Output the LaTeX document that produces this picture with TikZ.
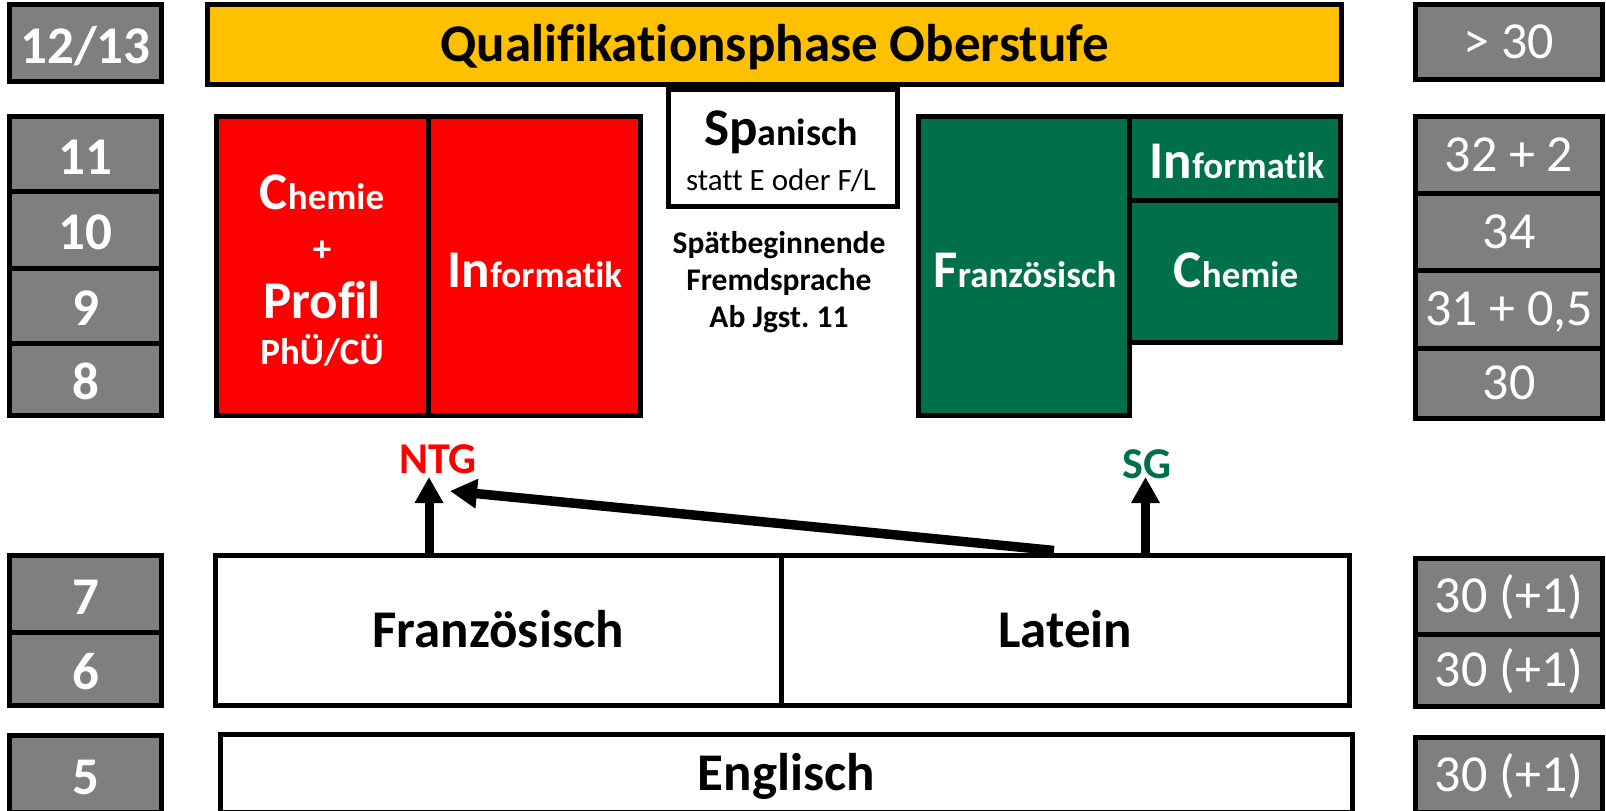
\documentclass[tikz,border=0pt]{standalone}
\usepackage{fontspec}
\setmainfont[Ligatures=NoCommon]{Carlito}
\usetikzlibrary{arrows.meta,calc}
\frenchspacing
\definecolor{cgray}{HTML}{7F7F7F}
\definecolor{cyel}{HTML}{FFC000}
\definecolor{cred}{HTML}{FF0000}
\definecolor{cgreen}{HTML}{00704A}
\newcommand\Hx[1]{{\fontsize{53}{60}\selectfont #1}}
\newcommand\boxat[7]{%
  \pgfmathsetmacro\bxcx{(#2+#4)/2}%
  \pgfmathsetmacro\bxcy{(#3+#5)/2}%
  \pgfmathsetmacro\bxw{#4-#2}%
  \pgfmathsetmacro\bxh{#5-#3}%
  \node[#6, minimum width=\bxw pt, minimum height=\bxh pt] (#1) at (\bxcx,\bxcy) {#7};}
\tikzset{
  bx/.style={draw=black, line width=5pt, inner sep=0pt, outer sep=0pt},
  grayL/.style={bx, fill=cgray, text=white, font=\bfseries\fontsize{53}{60}\selectfont, text height=40.5pt, text depth=0pt},
  grayR/.style={bx, fill=cgray, text=white, font=\fontsize{52}{60}\selectfont, text height=33pt, text depth=0pt},
  whitebox/.style={bx, fill=white, text=black, font=\bfseries\fontsize{53}{60}\selectfont, text height=34pt, text depth=0pt},
  yelbox/.style={bx, fill=cyel, text=black, font=\bfseries\fontsize{53}{60}\selectfont, text height=34pt, text depth=0pt},
  redbox/.style={bx, fill=cred},
  grnbox/.style={bx, fill=cgreen},
  wtxt/.style={inner sep=0pt, anchor=base, text=white, font=\bfseries\fontsize{37}{44}\selectfont},
  btxt/.style={inner sep=0pt, anchor=base, text=black, font=\bfseries\fontsize{31.5}{38}\selectfont},
  lbl/.style={inner sep=0pt, anchor=base, font=\bfseries\fontsize{44}{50}\selectfont},
  uparr/.style={draw=black, line width=9pt, -{Triangle[length=26pt,width=27pt]}},
  diagarr/.style={draw=black, line width=9.5pt, -{Triangle[length=27pt,width=28pt]}}
}
\begin{document}
\begin{tikzpicture}[x=1pt,y=-1pt]
\useasboundingbox (0,0) rectangle (1606,811);
% left column
\boxat{l1213}{9.5}{4.5}{161.5}{81.5}{grayL}{12/13}
\boxat{l11}{9.5}{116.5}{161.5}{191}{grayL}{11}
\boxat{l10}{9.5}{191}{161.5}{268}{grayL}{10}
\boxat{l9}{9.5}{268}{161.5}{343}{grayL}{9}
\boxat{l8}{9.5}{343}{161.5}{415.5}{grayL}{8}
\boxat{l7}{9.5}{555.5}{161.5}{632}{grayL}{7}
\boxat{l6}{9.5}{632}{161.5}{705.5}{grayL}{6}
\boxat{l5}{9.5}{735.5}{161.5}{812}{grayL}{5}
% right column
\boxat{r1213}{1415.5}{4.5}{1602.5}{79.5}{grayR}{> 30}
\boxat{r11}{1415.5}{116.5}{1602.5}{193}{grayR}{32 + 2}
\boxat{r10}{1415.5}{193}{1602.5}{270}{grayR}{34}
\boxat{r9}{1415.5}{270}{1602.5}{348}{grayR}{31 + 0,5}
\boxat{r8}{1415.5}{348}{1602.5}{418.5}{grayR}{30}
\boxat{r7}{1415.5}{558.5}{1602.5}{634}{grayR}{30 (+1)}
\boxat{r6}{1415.5}{634}{1602.5}{706.5}{grayR}{30 (+1)}
\boxat{r5}{1415.5}{737.5}{1602.5}{812}{grayR}{30 (+1)}
% top bar
\boxat{quali}{207.5}{4.5}{1341.5}{84.5}{yelbox}{Qualifikationsphase Oberstufe}
% red block (NTG)
\boxat{redA}{216.5}{116.5}{428}{415.5}{redbox}{}
\boxat{redB}{428}{116.5}{640.5}{415.5}{redbox}{}
\node[wtxt] (rc1) at (322,209) {\Hx{C}hemie};
\node[wtxt] (rc2) at (322,261) {+};
\node[wtxt] (rc3) at (322,318) {\Hx{Profil}};
\node[wtxt] (rc4) at (322,364) {PhÜ/CÜ};
\node[wtxt] (ri) at (535,287) {\Hx{In}formatik};
% Spanisch
\boxat{span}{668.5}{89.5}{897.5}{206.5}{bx, fill=white}{}
\node[btxt, font=\bfseries\fontsize{38}{44}\selectfont] (sp0) at (781,145) {\Hx{Sp}anisch};
\node[btxt, font=\mdseries\fontsize{31}{38}\selectfont] (spst) at (781,190.5) {statt E oder F/L};
\node[btxt] (sp1) at (779,253) {Spätbeginnende};
\node[btxt] (sp2) at (779,290) {Fremdsprache};
\node[btxt] (sp3) at (779,327.5) {Ab Jgst. 11};
% green block (SG)
\boxat{gA}{918.5}{116.5}{1129}{415.5}{grnbox}{}
\boxat{gB}{1129}{116.5}{1340.5}{200}{grnbox}{}
\boxat{gC}{1129}{200}{1340.5}{342.5}{grnbox}{}
\node[wtxt] (gf) at (1025,287) {\Hx{F}ranzösisch};
\node[wtxt] (gi) at (1237,178) {\Hx{In}formatik};
\node[wtxt] (gc) at (1236,287) {\Hx{C}hemie};
% lower boxes
\boxat{fr}{215.5}{555.5}{781}{705.5}{whitebox}{Französisch}
\boxat{la}{781}{555.5}{1349.5}{705.5}{whitebox}{Latein}
\boxat{en}{220.5}{734.5}{1352.5}{812}{whitebox}{Englisch}
% labels
\node[lbl, text=cred] (ntg) at (438,473) {NTG};
\node[lbl, text=cgreen] (sg) at (1147,478) {SG};
% arrows
\coordinate (ntgfoot) at ($(fr.north west)+(213.5,-2.5)$);
\coordinate (sgfoot) at ($(la.north west)+(364.5,-2.5)$);
\coordinate (diagfoot) at ($(la.north west)+(273,-5)$);
\draw[uparr] (ntgfoot) -- ($(ntg.base)+(-9,4)$);
\draw[uparr] (sgfoot) -- ($(sg.base)+(-1.5,-1)$);
\draw[diagarr] (diagfoot) -- ($(ntg.base)+(12,18)$);
\end{tikzpicture}
\end{document}
